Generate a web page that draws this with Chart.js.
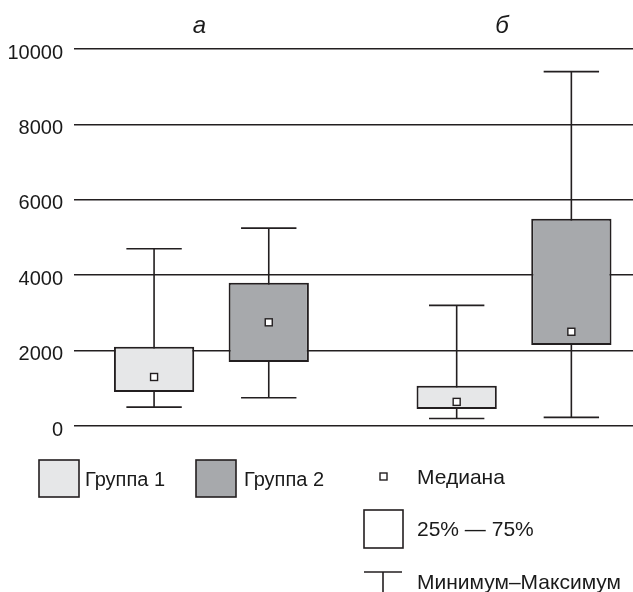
<!DOCTYPE html>
<html>
<head>
<meta charset="utf-8">
<script src="https://cdn.jsdelivr.net/npm/chart.js@4/dist/chart.umd.min.js"></script>
<style>
  html, body { margin: 0; padding: 0; background: #ffffff; overflow: hidden; }
  #wrap { position: relative; width: 633px; height: 592px; }
</style>
</head>
<body>
<div id="wrap"><canvas id="c" width="633" height="592"></canvas></div>
<script>
// ---- data ----
const panels = ['а', 'б'];
const groupNames = ['Группа 1', 'Группа 2'];
const yTickLabels = ['0', '2000', '4000', '6000', '8000', '10000'];
const legendLabels = ['Медиана', '25% — 75%', 'Минимум–Максимум'];

const group1Min    = [500, 200];
const group1Q1     = [900, 450];
const group1Median = [1300, 640];
const group1Q3     = [2100, 1070];
const group1Max    = [4700, 3200];

const group2Min    = [750, 230];
const group2Q1     = [1700, 2150];
const group2Median = [2750, 2500];
const group2Q3     = [3800, 5500];
const group2Max    = [5250, 9400];

// ---- style ----
const INK = '#231f20';
const TEXT = '#1a1a1a';
const FILL1 = '#e6e7e8';
const FILL2 = '#a7a9ac';
const FONT = '"Liberation Sans", Arial, sans-serif';

const stats = [
  { min: group1Min, q1: group1Q1, med: group1Median, q3: group1Q3, max: group1Max },
  { min: group2Min, q1: group2Q1, med: group2Median, q3: group2Q3, max: group2Max }
];

function boxData(g) {
  return panels.map((p, i) => ({ x: i, y: [stats[g].q1[i], stats[g].q3[i]] }));
}

const boxExtras = {
  id: 'boxExtras',
  beforeDatasetsDraw(chart) {
    const ctx = chart.ctx, y = chart.scales.y;
    ctx.save();
    ctx.strokeStyle = INK;
    ctx.lineWidth = 1.6;
    stats.forEach((s, g) => {
      const meta = chart.getDatasetMeta(g);
      meta.data.forEach((el, i) => {
        const x = el.x;
        const yMin = y.getPixelForValue(s.min[i]);
        const yMax = y.getPixelForValue(s.max[i]);
        const half = el.width * 0.345;
        ctx.beginPath();
        ctx.moveTo(x, yMax); ctx.lineTo(x, yMin);
        ctx.moveTo(x - half, yMax); ctx.lineTo(x + half, yMax);
        ctx.moveTo(x - half, yMin); ctx.lineTo(x + half, yMin);
        ctx.stroke();
      });
    });
    ctx.restore();
  },
  afterDatasetsDraw(chart) {
    const ctx = chart.ctx, y = chart.scales.y;
    ctx.save();
    ctx.strokeStyle = INK;
    ctx.fillStyle = '#ffffff';
    ctx.lineWidth = 1.4;
    stats.forEach((s, g) => {
      const meta = chart.getDatasetMeta(g);
      meta.data.forEach((el, i) => {
        const x = el.x, ym = y.getPixelForValue(s.med[i]);
        ctx.fillRect(x - 3.5, ym - 3.5, 7, 7);
        ctx.strokeRect(x - 3.5, ym - 3.5, 7, 7);
      });
    });
    ctx.restore();
  },
  afterDraw(chart) {
    const ctx = chart.ctx;
    ctx.save();
    ctx.strokeStyle = INK;
    ctx.lineWidth = 1.6;
    ctx.font = '20px ' + FONT;
    ctx.textBaseline = 'middle';
    ctx.textAlign = 'left';
    // group swatches
    const sw = [{ x: 39, fill: FILL1, tx: 85 }, { x: 196, fill: FILL2, tx: 244 }];
    sw.forEach((s, g) => {
      ctx.fillStyle = s.fill;
      ctx.fillRect(s.x, 460, 40, 37);
      ctx.strokeRect(s.x, 460, 40, 37);
      ctx.fillStyle = TEXT;
      ctx.fillText(groupNames[g], s.tx, 480);
    });
    // median marker
    ctx.fillStyle = '#ffffff';
    ctx.lineWidth = 1.4;
    ctx.fillRect(380, 473, 7, 7);
    ctx.strokeRect(380, 473, 7, 7);
    ctx.fillStyle = TEXT;
    ctx.font = '21px ' + FONT;
    ctx.fillText(legendLabels[0], 417, 478);
    // box
    ctx.lineWidth = 1.6;
    ctx.fillStyle = '#ffffff';
    ctx.fillRect(364, 510, 39, 38);
    ctx.strokeRect(364, 510, 39, 38);
    ctx.fillStyle = TEXT;
    ctx.fillText(legendLabels[1], 417, 530);
    // whisker
    ctx.beginPath();
    ctx.moveTo(364, 572); ctx.lineTo(402, 572);
    ctx.moveTo(383, 572); ctx.lineTo(383, 594);
    ctx.stroke();
    ctx.fillText(legendLabels[2], 417, 583);
    ctx.restore();
  }
};

new Chart(document.getElementById('c'), {
  type: 'bar',
  data: {
    datasets: [
      { label: groupNames[0], data: boxData(0), backgroundColor: FILL1, borderColor: INK, borderWidth: 2, borderSkipped: false },
      { label: groupNames[1], data: boxData(1), backgroundColor: FILL2, borderColor: INK, borderWidth: 2, borderSkipped: false }
    ]
  },
  options: {
    responsive: false,
    animation: false,
    events: [],
    categoryPercentage: 0.758,
    barPercentage: 0.70,
    layout: { padding: { left: 0, right: 0, top: 0, bottom: 166 } },
    plugins: { legend: { display: false }, tooltip: { enabled: false } },
    scales: {
      x: {
        type: 'linear',
        position: 'top',
        offset: false,
        min: -0.4541,
        max: 1.3932,
        grid: { display: false, offset: false },
        border: { display: false },
        ticks: {
          stepSize: 1,
          includeBounds: false,
          padding: 0,
          labelOffset: -12,
          color: TEXT,
          font: { family: FONT, size: 24, style: 'italic' },
          maxRotation: 0,
          callback: (v) => panels[v] !== undefined ? panels[v] : ''
        },
        afterFit: (s) => { s.height = 49; }
      },
      y: {
        stacked: false,
        min: 0,
        max: 10000,
        grid: { color: INK, lineWidth: 1.6, drawTicks: false },
        border: { display: false },
        ticks: {
          stepSize: 2000,
          padding: 11,
          labelOffset: 4,
          color: TEXT,
          font: { family: FONT, size: 20 },
          callback: (v) => yTickLabels[v / 2000]
        },
        afterFit: (s) => { s.width = 74; }
      }
    }
  },
  plugins: [boxExtras]
});
</script>
</body>
</html>
